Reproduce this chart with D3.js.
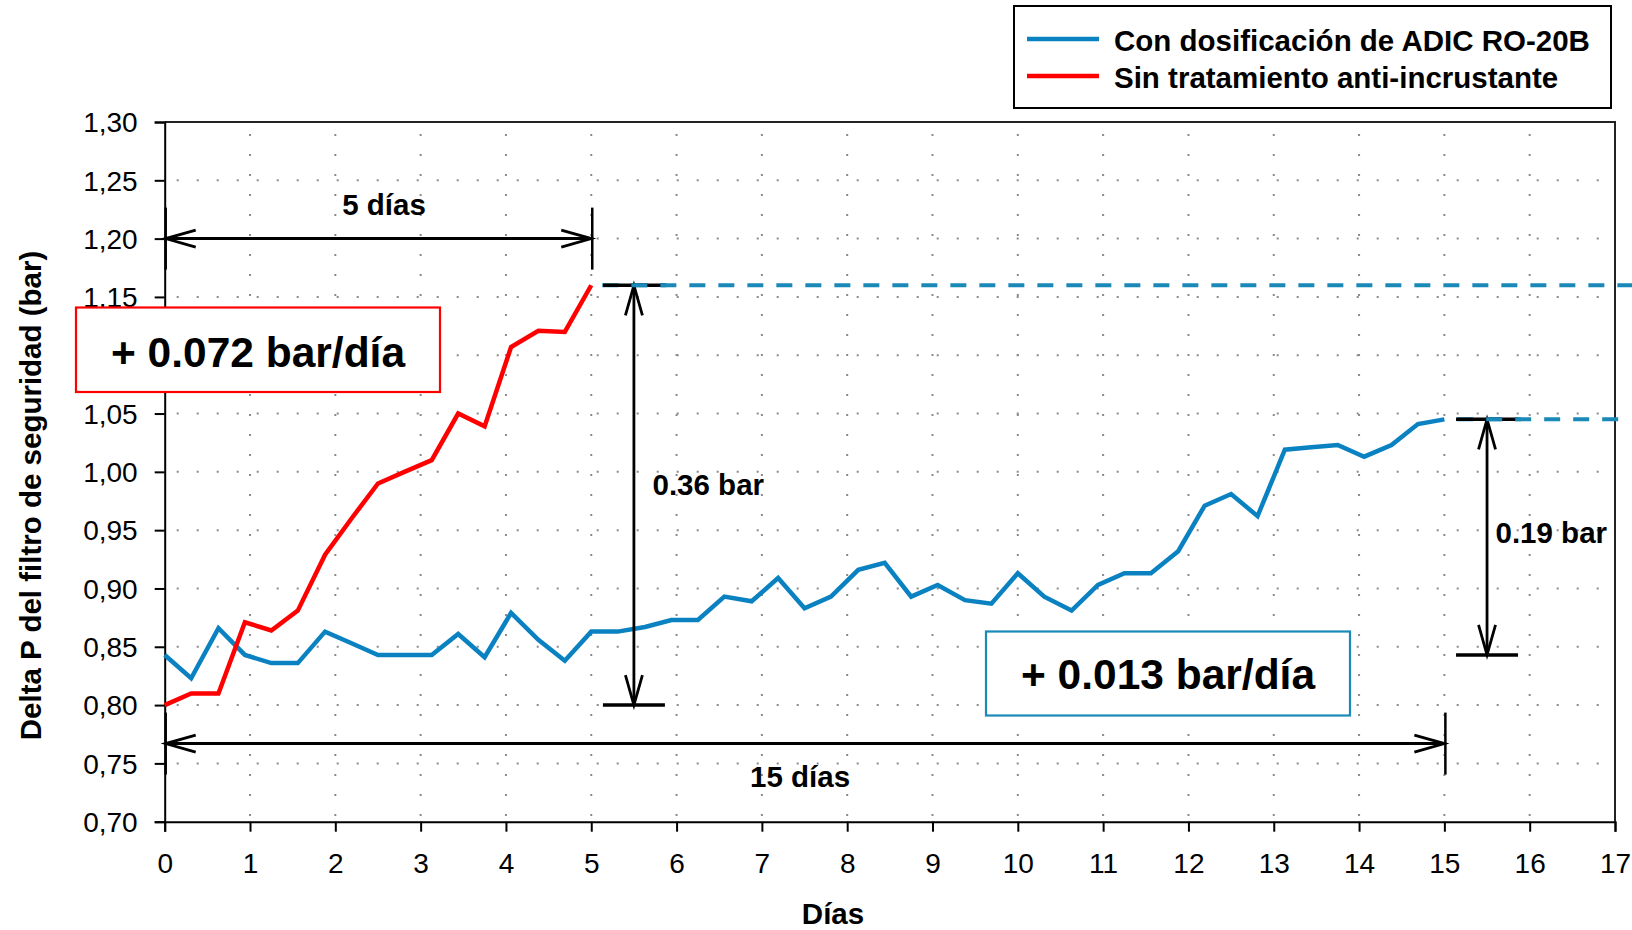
<!DOCTYPE html>
<html>
<head>
<meta charset="utf-8">
<script src="https://cdn.jsdelivr.net/npm/d3@7"></script>
<style>
  html, body { margin: 0; padding: 0; background: #fff; }
  svg { display: block; font-family: "Liberation Sans", Arial, sans-serif; }
</style>
</head>
<body>
<svg id="chart" width="1632" height="930"></svg>
<script>
// Sampling times (days) for the differential-pressure readings
const timeDays = [0, 0.31, 0.63, 0.94, 1.25, 1.56, 1.88, 2.19, 2.5, 2.81, 3.13, 3.44,
  3.75, 4.06, 4.38, 4.69, 5, 5.31, 5.63, 5.94, 6.25, 6.56, 6.88, 7.19, 7.5, 7.81,
  8.13, 8.44, 8.75, 9.06, 9.38, 9.69, 10, 10.31, 10.63, 10.94, 11.25, 11.56, 11.88,
  12.19, 12.5, 12.81, 13.13, 13.44, 13.75, 14.06, 14.38, 14.69, 15];

// Delta P (bar) with ADIC RO-20B dosing
const withDosing = [0.843, 0.823, 0.866, 0.843, 0.836, 0.836, 0.863, 0.853, 0.843, 0.843,
  0.843, 0.861, 0.841, 0.879, 0.856, 0.838, 0.863, 0.863, 0.867, 0.873, 0.873, 0.893,
  0.889, 0.909, 0.883, 0.893, 0.916, 0.922, 0.893, 0.903, 0.890, 0.887, 0.913, 0.893,
  0.881, 0.903, 0.913, 0.913, 0.932, 0.971, 0.981, 0.962, 1.019, 1.021, 1.023, 1.013,
  1.023, 1.041, 1.045];

// Delta P (bar) without antiscalant (first 17 readings only)
const withoutTreatment = [0.800, 0.810, 0.810, 0.871, 0.864, 0.881, 0.929, 0.960, 0.990,
  1.000, 1.010, 1.050, 1.039, 1.107, 1.121, 1.120, 1.160];

const xTicks = d3.range(0, 18);
const yTicks = [0.70, 0.75, 0.80, 0.85, 0.90, 0.95, 1.00, 1.05, 1.10, 1.15, 1.20, 1.25, 1.30];
const seriesNames = ["Con dosificación de ADIC RO-20B", "Sin tratamiento anti-incrustante"];
const axisTitles = { x: "Días", y: "Delta P del filtro de seguridad (bar)" };

// Annotation values
const spanShort = { from: 0, to: 5, level: 1.20, label: "5 días" };
const spanLong = { from: 0, to: 15, level: 0.767, label: "15 días" };
const riseRed = { day: 5.5, from: 0.80, to: 1.16, label: "0.36 bar" };
const riseBlue = { day: 15.5, from: 0.843, to: 1.045, label: "0.19 bar" };
const rateLabels = ["+ 0.072 bar/día", "+ 0.013 bar/día"];
const plateaus = [{ from: 5.13, to: 17.2, level: 1.16 }, { from: 15.15, to: 17.06, level: 1.045 }];

const BLUE = "#0a82c2", BLUE_DASH = "#1a89b8", RED = "#ff0000";

const svg = d3.select("#chart");
svg.append("rect").attr("width", 1632).attr("height", 930).attr("fill", "#fff");

const x = d3.scaleLinear().domain([0, 17]).range([164.7, 1615]);
const y = d3.scaleLinear().domain([0.70, 1.30]).range([821.7, 122]);

// dotted grid
const grid = svg.append("g").attr("stroke", "#8a8a8a").attr("stroke-width", 2)
  .attr("stroke-dasharray", "2,18");
grid.selectAll("line.h").data(yTicks.filter(v => v > 0.701 && v < 1.299)).join("line")
  .attr("x1", x(0) + 12).attr("x2", x(17)).attr("y1", d => y(d)).attr("y2", d => y(d));
grid.selectAll("line.v").data(xTicks.filter(v => v > 0 && v < 17)).join("line")
  .attr("x1", d => x(d)).attr("x2", d => x(d)).attr("y1", y(1.30) + 12).attr("y2", y(0.70));

// plot frame (top and right)
svg.append("path")
  .attr("d", `M${x(0)},${y(1.30)}H${x(17)}V${y(0.70)}`)
  .attr("fill", "none").attr("stroke", "#222").attr("stroke-width", 2);

// axes
const fmt = d3.format(".2f");
const yAxis = svg.append("g").attr("transform", `translate(${x(0)},0)`)
  .call(d3.axisLeft(y).tickValues(yTicks).tickSize(10).tickPadding(17)
    .tickFormat(d => fmt(d).replace(".", ",")));
const xAxis = svg.append("g").attr("transform", `translate(0,${y(0.70)})`)
  .call(d3.axisBottom(x).tickValues(xTicks).tickSize(10).tickPadding(21).tickFormat(d3.format("d")));
[xAxis, yAxis].forEach(g => {
  g.select(".domain").attr("stroke", "#000").attr("stroke-width", 2);
  g.selectAll(".tick line").attr("stroke", "#000").attr("stroke-width", 2);
  g.selectAll(".tick text").attr("fill", "#000").attr("font-size", 28)
    .attr("font-family", "'Liberation Sans', Arial, sans-serif");
});
yAxis.selectAll(".tick text").attr("dy", "0.35em");
// the 1,10 label sits entirely behind the rate box
yAxis.selectAll(".tick").filter(d => Math.abs(d - 1.10) < 1e-6).select("text").remove();

// axis titles
svg.append("text").attr("x", 833).attr("y", 924).attr("text-anchor", "middle")
  .attr("font-size", 29.5).attr("font-weight", "bold").text(axisTitles.x);
svg.append("text").attr("transform", "translate(41,495.5) rotate(-90)").attr("text-anchor", "middle")
  .attr("font-size", 29.5).attr("font-weight", "bold").text(axisTitles.y);

// plateau projections
svg.append("g").selectAll("line").data(plateaus).join("line")
  .attr("x1", d => x(d.from)).attr("x2", d => x(d.to))
  .attr("y1", d => y(d.level)).attr("y2", d => y(d.level))
  .attr("stroke", BLUE_DASH).attr("stroke-width", 4).attr("stroke-dasharray", "16,13");

// series lines
const line = d3.line().x(d => x(d[0])).y(d => y(d[1]));
svg.append("path").datum(withDosing.map((v, i) => [timeDays[i], v]))
  .attr("d", line).attr("fill", "none").attr("stroke", BLUE).attr("stroke-width", 4.5)
  .attr("stroke-linejoin", "miter");
svg.append("path").datum(withoutTreatment.map((v, i) => [timeDays[i], v]))
  .attr("d", line).attr("fill", "none").attr("stroke", RED).attr("stroke-width", 4.5)
  .attr("stroke-linejoin", "miter");

// annotation helpers
const ann = svg.append("g").attr("stroke", "#000").attr("fill", "none");
function head(px, py, dx, dy) {
  // open arrowhead pointing towards (px, py); (dx, dy) is the unit direction of travel
  const L = 30, W = 8.5;
  const bx = px - dx * L, by = py - dy * L;
  ann.append("path")
    .attr("d", `M${bx - dy * W},${by + dx * W}L${px},${py}L${bx + dy * W},${by - dx * W}`)
    .attr("stroke-width", 2.8);
}
function hSpan(s, textDx, textY) {
  const yy = y(s.level);
  ann.append("line").attr("x1", x(s.from)).attr("x2", x(s.to)).attr("y1", yy).attr("y2", yy)
    .attr("stroke-width", 3);
  [s.from, s.to].forEach(d => ann.append("line").attr("x1", x(d) + 1).attr("x2", x(d) + 1)
    .attr("y1", yy - 31).attr("y2", yy + 31).attr("stroke-width", 2.5));
  head(x(s.from) + 1, yy, -1, 0);
  head(x(s.to), yy, 1, 0);
  svg.append("text").attr("x", (x(s.from) + x(s.to)) / 2 + textDx).attr("y", textY)
    .attr("text-anchor", "middle").attr("font-size", 29.5).attr("font-weight", "bold").text(s.label);
}
function vSpan(s, textX, textY) {
  const xx = x(s.day);
  ann.append("line").attr("x1", xx).attr("x2", xx).attr("y1", y(s.from)).attr("y2", y(s.to))
    .attr("stroke-width", 2.8);
  [s.from, s.to].forEach(v => ann.append("line").attr("x1", xx - 31).attr("x2", xx + 31)
    .attr("y1", y(v)).attr("y2", y(v)).attr("stroke-width", 3.5));
  head(xx, y(s.to), 0, -1);
  head(xx, y(s.from), 0, 1);
  svg.append("text").attr("x", textX).attr("y", textY)
    .attr("font-size", 29.5).attr("font-weight", "bold").text(s.label);
}
hSpan(spanShort, 6, 215);
hSpan(spanLong, -4.5, 787);
vSpan(riseRed, 652.5, 495);
vSpan(riseBlue, 1495.5, 543);
// re-draw the dashed plateaus over the cap lines
svg.append("g").selectAll("line").data(plateaus).join("line")
  .attr("x1", d => x(d.from) + 29).attr("x2", d => x(d.from) + 64)
  .attr("y1", d => y(d.level)).attr("y2", d => y(d.level))
  .attr("stroke", BLUE_DASH).attr("stroke-width", 4).attr("stroke-dasharray", "16,13")
  .attr("stroke-dashoffset", -29);

// rate boxes
function rateBox(x0, y0, w, h, color, label, baseline) {
  svg.append("rect").attr("x", x0).attr("y", y0).attr("width", w).attr("height", h)
    .attr("fill", "#fff").attr("stroke", color).attr("stroke-width", 2.2);
  svg.append("text").attr("x", x0 + w / 2).attr("y", baseline).attr("text-anchor", "middle")
    .attr("font-size", 42.5).attr("font-weight", "bold").text(label);
}
rateBox(76, 307.5, 364, 84.5, RED, rateLabels[0], 366.5);
rateBox(986, 631.5, 364, 84, BLUE_DASH, rateLabels[1], 689);

// legend
const leg = svg.append("g");
leg.append("rect").attr("x", 1014).attr("y", 6).attr("width", 597).attr("height", 102)
  .attr("fill", "#fff").attr("stroke", "#000").attr("stroke-width", 2);
const legItems = [{ name: seriesNames[0], color: BLUE, ly: 39, ty: 50.5 },
                  { name: seriesNames[1], color: RED, ly: 76, ty: 87.5 }];
legItems.forEach(d => {
  leg.append("line").attr("x1", 1027).attr("x2", 1099).attr("y1", d.ly).attr("y2", d.ly)
    .attr("stroke", d.color).attr("stroke-width", 4.5);
  leg.append("text").attr("x", 1114).attr("y", d.ty).attr("font-size", 29.5)
    .attr("font-weight", "bold").text(d.name);
});
</script>
</body>
</html>
